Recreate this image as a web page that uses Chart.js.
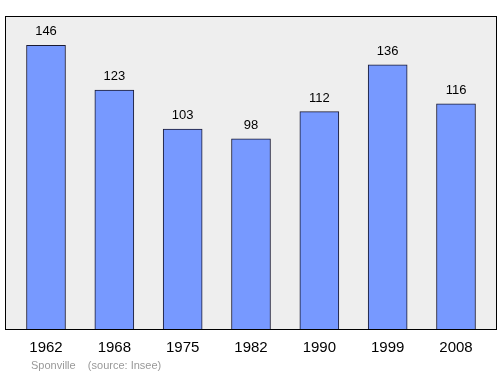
<!DOCTYPE html>
<html>
<head>
<meta charset="utf-8">
<script src="https://cdn.jsdelivr.net/npm/chart.js@4"></script>
<style>
  html, body { margin: 0; padding: 0; background: #fff; }
  #wrap { width: 500px; height: 374px; position: relative; }
</style>
</head>
<body>
<div id="wrap"><canvas id="chart"></canvas></div>
<script>
const years = ['1962', '1968', '1975', '1982', '1990', '1999', '2008'];
const population = [146, 123, 103, 98, 112, 136, 116];
const footer = 'Sponville    (source: Insee)';

const FONT = '"Liberation Sans", Arial, sans-serif';

const plotFrame = {
  id: 'plotFrame',
  beforeDraw(chart) {
    const { ctx, chartArea: a } = chart;
    ctx.save();
    ctx.fillStyle = '#eeeeee';
    ctx.fillRect(a.left, a.top, a.right - a.left, a.bottom - a.top);
    ctx.restore();
  },
  afterDatasetsDraw(chart) {
    const { ctx, chartArea: a } = chart;
    ctx.save();
    ctx.strokeStyle = '#000';
    ctx.lineWidth = 1;
    ctx.strokeRect(a.left + 0.5, a.top + 0.5, a.right - a.left - 1, a.bottom - a.top - 1);

    // value labels above each bar
    const meta = chart.getDatasetMeta(0);
    ctx.fillStyle = '#000';
    ctx.font = '13px ' + FONT;
    ctx.textAlign = 'center';
    ctx.textBaseline = 'alphabetic';
    meta.data.forEach((bar, i) => {
      ctx.fillText(String(population[i]), bar.x, bar.y - 10);
    });

    // footer
    ctx.fillStyle = '#999999';
    ctx.font = '11px ' + FONT;
    ctx.textAlign = 'left';
    ctx.fillText(footer, 31, 369);
    ctx.restore();
  }
};

new Chart(document.getElementById('chart'), {
  type: 'bar',
  data: {
    datasets: [{
      data: population.map((v, i) => ({ x: i, y: v })),
      backgroundColor: '#7799ff',
      borderColor: '#1a1a33',
      borderWidth: 1,
      borderSkipped: 'bottom',
      barThickness: 39
    }]
  },
  options: {
    responsive: true,
    maintainAspectRatio: false,
    animation: false,
    layout: { padding: { left: 5, right: 3, top: 16, bottom: 0 } },
    plugins: { legend: { display: false }, tooltip: { enabled: false } },
    scales: {
      x: {
        type: 'linear',
        offset: false,
        min: -0.6,
        max: 6.6,
        grid: { display: false, drawTicks: false },
        border: { display: false },
        afterBuildTicks(scale) {
          scale.ticks = years.map((_, i) => ({ value: i }));
        },
        afterFit(scale) { scale.height = 44; },
        ticks: {
          autoSkip: false,
          maxRotation: 0,
          padding: 9,
          color: '#000',
          font: { family: FONT, size: 15 },
          callback: (v) => years[v]
        }
      },
      y: {
        display: false,
        min: 0,
        max: 161
      }
    }
  },
  plugins: [plotFrame]
});
</script>
</body>
</html>
